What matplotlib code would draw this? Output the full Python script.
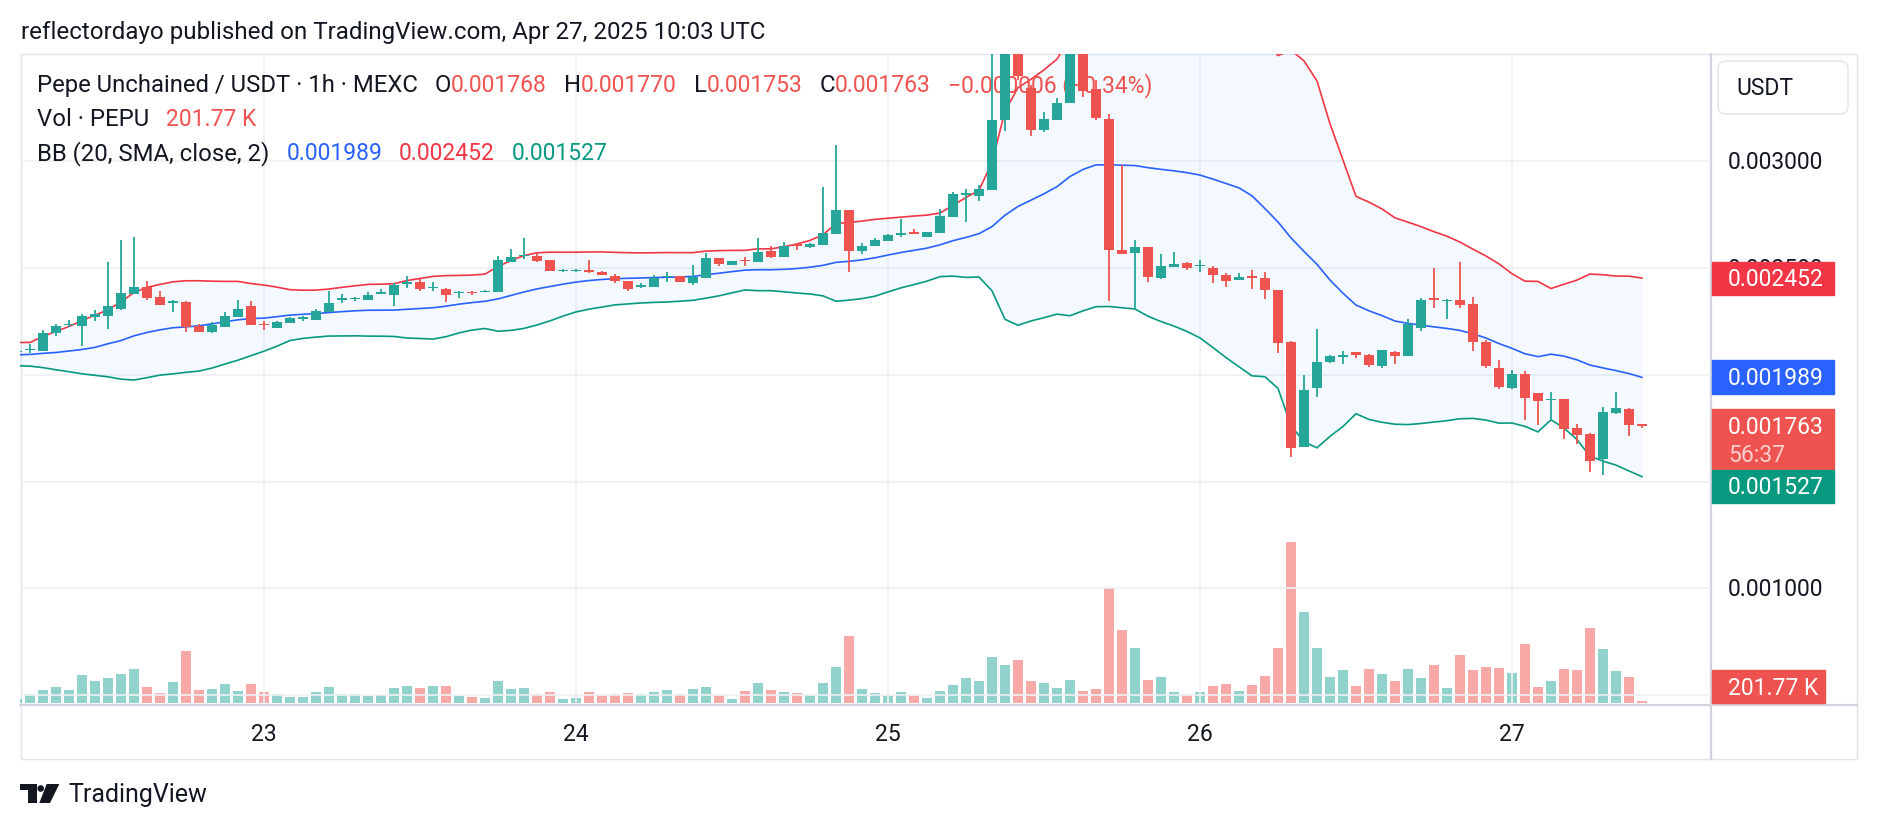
import matplotlib.pyplot as plt
import numpy as np
import pandas as pd
from matplotlib.patches import Rectangle, Circle, Polygon, FancyBboxPatch
from matplotlib.transforms import offset_copy

plt.rcParams['font.family'] = ['Roboto', 'DejaVu Sans']

# PEPU/USDT 1h candles, 22 Apr 05:00 -> 27 Apr 10:00 UTC (prices in 1e-6 USDT)
times = pd.date_range('2025-04-22 05:00', periods=126, freq='h')

opens = [
    2105, 2116, 2113, 2196, 2234, 2230, 2271, 2277, 2308, 2378,
    2410, 2363, 2339, 2342, 2230, 2202, 2225, 2272, 2321, 2239,
    2221, 2243, 2261, 2258, 2293, 2352, 2355, 2352, 2380, 2375,
    2428, 2433, 2405, 2402, 2383, 2389, 2389, 2386, 2531, 2555,
    2558, 2539, 2486, 2487, 2491, 2481, 2464, 2438, 2414, 2414,
    2458, 2461, 2430, 2456, 2547, 2517, 2539, 2527, 2578, 2550,
    2613, 2597, 2609, 2661, 2773, 2578, 2602, 2625, 2656, 2667,
    2648, 2664, 2739, 2842, 2836, 2867, 3192, 3600, 3344, 3145,
    3195, 3273, 3560, 3339, 3200, 2583, 2570, 2598, 2453, 2505,
    2523, 2508, 2500, 2469, 2445, 2461, 2455, 2398, 2156, 1661,
    1940, 2060, 2082, 2105, 2092, 2042, 2109, 2089, 2219, 2358,
    2348, 2350, 2331, 2155, 2031, 1938, 2003, 1913, 1883, 1886,
    1753, 1722, 1605, 1820, 1839, 1768,
]
highs = [
    2118, 2144, 2210, 2238, 2255, 2285, 2303, 2527, 2631, 2644,
    2438, 2391, 2352, 2346, 2238, 2250, 2293, 2350, 2344, 2254,
    2252, 2272, 2277, 2308, 2392, 2378, 2367, 2386, 2402, 2430,
    2461, 2449, 2436, 2405, 2391, 2395, 2398, 2558, 2591, 2641,
    2570, 2539, 2494, 2497, 2539, 2486, 2473, 2441, 2430, 2467,
    2484, 2464, 2516, 2570, 2548, 2535, 2550, 2641, 2602, 2622,
    2617, 2617, 2880, 3075, 2773, 2617, 2641, 2659, 2730, 2683,
    2667, 2777, 2859, 2870, 2888, 3560, 3650, 3650, 3360, 3233,
    3297, 3600, 3580, 3383, 3223, 2983, 2633, 2598, 2567, 2577,
    2530, 2536, 2508, 2477, 2477, 2492, 2481, 2398, 2159, 2000,
    2214, 2092, 2112, 2109, 2100, 2116, 2112, 2261, 2358, 2500,
    2355, 2530, 2363, 2163, 2069, 2022, 2016, 1917, 1922, 1889,
    1769, 1727, 1850, 1919, 1844, 1770,
]
lows = [
    2100, 2102, 2113, 2183, 2224, 2136, 2254, 2215, 2305, 2378,
    2352, 2327, 2296, 2202, 2202, 2196, 2225, 2272, 2235, 2211,
    2221, 2243, 2254, 2258, 2293, 2336, 2347, 2352, 2378, 2324,
    2405, 2394, 2394, 2342, 2358, 2375, 2386, 2386, 2531, 2542,
    2531, 2489, 2484, 2480, 2477, 2466, 2430, 2391, 2406, 2414,
    2433, 2433, 2422, 2456, 2508, 2517, 2508, 2527, 2547, 2550,
    2583, 2594, 2609, 2661, 2480, 2567, 2602, 2625, 2645, 2658,
    2648, 2664, 2739, 2714, 2813, 2867, 3141, 3380, 3117, 3136,
    3195, 3273, 3302, 3195, 2344, 2567, 2313, 2433, 2448, 2505,
    2492, 2484, 2430, 2411, 2445, 2403, 2355, 2102, 1614, 1661,
    1895, 2058, 2051, 2081, 2038, 2033, 2050, 2089, 2206, 2313,
    2261, 2313, 2113, 2033, 1936, 1933, 1788, 1766, 1792, 1698,
    1675, 1545, 1531, 1817, 1714, 1753,
]
closes = [
    2112, 2119, 2196, 2230, 2240, 2277, 2283, 2321, 2383, 2410,
    2360, 2327, 2346, 2225, 2202, 2235, 2274, 2311, 2235, 2233,
    2249, 2266, 2269, 2297, 2339, 2361, 2361, 2374, 2388, 2420,
    2436, 2402, 2413, 2375, 2389, 2383, 2395, 2539, 2552, 2563,
    2534, 2489, 2491, 2492, 2480, 2466, 2438, 2403, 2422, 2456,
    2464, 2433, 2458, 2547, 2520, 2533, 2533, 2577, 2552, 2605,
    2605, 2614, 2664, 2773, 2578, 2602, 2633, 2656, 2664, 2661,
    2667, 2742, 2848, 2850, 2872, 3195, 3600, 3398, 3145, 3200,
    3273, 3560, 3328, 3203, 2583, 2567, 2598, 2458, 2508, 2520,
    2500, 2514, 2469, 2442, 2458, 2455, 2398, 2148, 1656, 1930,
    2062, 2090, 2093, 2095, 2045, 2116, 2089, 2238, 2350, 2352,
    2353, 2328, 2155, 2042, 1944, 2003, 1891, 1878, 1889, 1745,
    1717, 1597, 1827, 1844, 1766, 1763,
]
# volume in thousands of PEPU
volume_k = [
    440, 1080, 1520, 1880, 1520, 3320, 2600, 2960, 3440, 4040,
    1880, 1160, 2480, 6200, 1520, 1640, 2240, 1400, 2240, 1280,
    1040, 680, 680, 1280, 1880, 1040, 1040, 800, 920, 1760,
    2000, 1760, 2000, 2000, 800, 680, 560, 2600, 1640, 1760,
    1040, 1280, 440, 560, 1280, 920, 1040, 1160, 1040, 1280,
    1520, 1040, 1640, 1880, 920, 440, 1400, 2360, 1520, 1280,
    1160, 920, 2360, 4280, 8000, 1640, 1160, 800, 1280, 920,
    560, 1400, 2120, 2960, 2600, 5480, 4520, 5120, 2600, 2360,
    1760, 2720, 1400, 1640, 13760, 8720, 6560, 2720, 3080, 1280,
    920, 1280, 2000, 2240, 1400, 2120, 3200, 6560, 19280, 10880,
    6560, 3080, 3920, 2000, 4040, 3440, 2600, 4040, 2960, 4520,
    1760, 5720, 3920, 4280, 4160, 3560, 7040, 1880, 2600, 4040,
    3920, 8960, 6440, 3800, 3080, 201.77,
]
# Bollinger values of the first 19 candles (their window reaches before the view)
bb_mid_head = [2094, 2096, 2101, 2105, 2112, 2119, 2129, 2146, 2161, 2183,
               2199, 2211, 2221, 2225, 2230, 2239, 2249, 2258, 2264]
bb_up_head = [2152, 2152, 2180, 2204, 2227, 2254, 2280, 2305, 2342, 2386,
              2410, 2424, 2436, 2441, 2441, 2439, 2438, 2438, 2428]
bb_lo_head = [2043, 2041, 2034, 2024, 2015, 2005, 1998, 1991, 1980, 1976,
              1987, 1999, 2005, 2012, 2018, 2032, 2051, 2069, 2090]
# price scale labels that are not hidden behind the value tags
scale_ticks = [0.0030, 0.0025, 0.0010]

W, H = 1878, 830
DARK = '#131722'
GREEN = '#26a69a'
RED = '#ef5350'
FS = 16.5
FS_TXT = 17.2
Y0, Y1 = 0.000454, 0.003503

o = np.array(opens) * 1e-6
h = np.array(highs) * 1e-6
l = np.array(lows) * 1e-6
c = np.array(closes) * 1e-6
vol = np.array(volume_k, dtype=float)
x = np.arange(len(times))

# Bollinger Bands (20, SMA, close, 2)
cs = pd.Series(c)
mid = cs.rolling(20).mean().to_numpy()
sd = cs.rolling(20).std(ddof=0).to_numpy()
upper = mid + 2 * sd
lower = mid - 2 * sd
n0 = len(bb_mid_head)
mid[:n0] = np.array(bb_mid_head) * 1e-6
upper[:n0] = np.array(bb_up_head) * 1e-6
lower[:n0] = np.array(bb_lo_head) * 1e-6

fig = plt.figure(figsize=(W / 100, H / 100), dpi=100)

# pixel layer for frame, titles, logo
deco = fig.add_axes([0, 0, 1, 1])
deco.set_xlim(0, W)
deco.set_ylim(H, 0)
deco.axis('off')

pane = [20 / W, 1 - 705 / H, 1691 / W, 651 / H]
ax_v = fig.add_axes(pane)
ax = fig.add_axes(pane, sharex=ax_v)
ax_r = fig.add_axes([1711 / W, 1 - 705 / H, 146 / W, 651 / H], sharey=ax)
for a in (ax_v, ax):
    a.set_facecolor('none')
    for s in a.spines.values():
        s.set_visible(False)

ax.set_xlim(0.23, 130.31)
ax.set_ylim(Y0, Y1)

# volume
vcols = np.where(c >= o, '#92d2cc', '#f7a9a7')
ax_v.bar(x, vol, width=0.82, color=vcols, zorder=1)
ax_v.set_ylim(-276, 77844)
ax_v.axis('off')

# grid and time axis
day_idx = np.where(times.hour == 0)[0]
ax.set_xticks(day_idx)
ax.set_xticklabels([str(t.day) for t in times[day_idx]])
ax.set_yticks(np.arange(0.0005, 0.00301, 0.0005))
ax.tick_params(axis='both', length=0, labelleft=False)
ax.tick_params(axis='x', labelsize=FS, labelcolor=DARK, pad=13)
ax.grid(True, color='#eef0f3', lw=1.2)
ax.set_axisbelow(True)

# bands
ax.fill_between(x, lower, upper, color='#2196f3', alpha=0.05, lw=0, zorder=1)
ax.plot(x, upper, color='#f23645', lw=1.2, zorder=2)
ax.plot(x, mid, color='#2962ff', lw=1.2, zorder=2)
ax.plot(x, lower, color='#089981', lw=1.2, zorder=2)

# candles
cols = np.where(c >= o, GREEN, RED)
body = np.maximum(np.abs(c - o), 0.000005)
ax.vlines(x, l, h, colors=cols, lw=1.3, zorder=4)
ax.bar(x, body, bottom=np.minimum(o, c), width=0.76, color=cols, zorder=5)

# legend lines (drawn under the candles)
rend = fig.canvas.get_renderer()


def runs(xp, yp, parts, gap=17):
    for s, col in parts:
        if s is None:
            xp += gap
            continue
        size = FS_TXT if col == DARK else FS
        t = ax.text(xp, yp, s, color=col, fontsize=size, va='baseline', ha='left',
                    transform=deco.transData, zorder=3)
        xp += t.get_window_extent(rend).width


runs(37, 92, [('Pepe Unchained / USDT · 1h · MEXC', DARK), (None, 0),
              ('O', DARK), ('0.001768', RED), (None, 0),
              ('H', DARK), ('0.001770', RED), (None, 0),
              ('L', DARK), ('0.001753', RED), (None, 0),
              ('C', DARK), ('0.001763', RED), (None, 0),
              ('\u22120.000006 (\u22120.34%)', RED)])
runs(37, 126, [('Vol · PEPU', DARK), (None, 0), ('201.77 K', RED)])
runs(37, 160, [('BB (20, SMA, close, 2)', DARK), (None, 0),
               ('0.001989', '#2962ff'), (None, 0),
               ('0.002452', '#f23645'), (None, 0),
               ('0.001527', '#089981')])

# price scale
ax_r.set_xlim(0, 146)
ax_r.axis('off')
PX = (Y1 - Y0) / 651
base = offset_copy(ax_r.transData, fig=fig, y=-8, units='dots')
for v in scale_ticks:
    ax_r.text(17, v, f'{v:.6f}', ha='left', va='baseline', fontsize=FS,
              color=DARK, transform=base, zorder=1)


def tag(y_top, h_px, color, lines, w=122):
    ax_r.add_patch(Rectangle((1, y_top - h_px * PX), w, h_px * PX,
                             color=color, zorder=5))
    for yc, s, tc in lines:
        ax_r.text(17, yc, s, ha='left', va='baseline', fontsize=FS, color=tc,
                  transform=base, zorder=6)


last = c[-1]
tag(0.002452 + 16.5 * PX, 33, '#f23645', [(0.002452, '0.002452', 'white')])
tag(0.001989 + 17 * PX, 34, '#2962ff', [(0.001989, '0.001989', 'white')])
tag(last + 17 * PX, 60, RED, [(last, '0.001763', 'white'),
                              (last - 28 * PX, '56:37', (1, 1, 1, 0.72))])
low_top = last - 44 * PX
tag(low_top, 33, '#089981', [(low_top - 16.5 * PX, '0.001527', 'white')])
vol_top = Y0 + 35 * PX
tag(vol_top, 33, RED, [(vol_top - 16.5 * PX, '201.77 K', 'white')], w=113)

# frame
deco.add_patch(Rectangle((20.5, 54.5), 1836, 704.5, fill=False, ec='#e0e3eb', lw=1))
deco.plot([20, 1857], [705, 705], color='#d1d4dc', lw=1.6)
deco.plot([1711, 1711], [54, 759], color='#d1d4dc', lw=1.6)
deco.add_patch(FancyBboxPatch((1718, 61), 130, 53, boxstyle='round,pad=0,rounding_size=8',
                              ec='#e0e3eb', fc='white', lw=1))
deco.text(1736, 95, 'USDT', fontsize=FS, color=DARK, va='baseline')

# title
deco.text(21, 39, 'reflectordayo published on TradingView.com, Apr 27, 2025 10:03 UTC',
          fontsize=17.4, color=DARK, va='baseline')

# logo
deco.add_patch(Rectangle((20, 784), 16.7, 5.5, color=DARK, lw=0))
deco.add_patch(Rectangle((28.3, 784), 8.4, 19, color=DARK, lw=0))
deco.add_patch(Circle((40.7, 788.5), 3.3, color=DARK, lw=0))
deco.add_patch(Polygon([(46.7, 784), (59.3, 784), (50, 803), (39.3, 803)], color=DARK, lw=0))
deco.text(68, 802, 'TradingView', fontsize=18, color=DARK, va='baseline')

fig.savefig('out.png', dpi=100)
